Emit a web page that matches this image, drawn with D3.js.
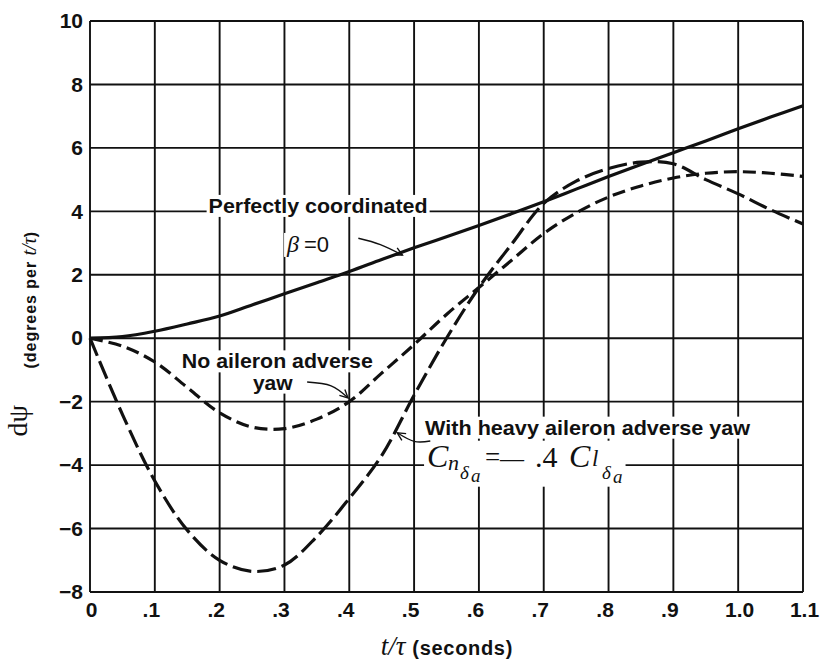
<!DOCTYPE html>
<html>
<head>
<meta charset="utf-8">
<script src="https://cdn.jsdelivr.net/npm/d3@7"></script>
<style>
  body { margin: 0; background: #fff; }
  svg { display: block; }
</style>
</head>
<body>
<svg id="chart" width="822" height="662"></svg>
<script>
// Time axis samples (t/τ) shared by the three response curves
const tValues = [0, 0.05, 0.1, 0.15, 0.2, 0.25, 0.3, 0.35, 0.4, 0.45, 0.5, 0.55,
                 0.6, 0.65, 0.7, 0.75, 0.8, 0.85, 0.9, 0.95, 1.0, 1.05, 1.1];

// Perfectly coordinated, β = 0
const coordinated = [0, 0.05, 0.22, 0.45, 0.7, 1.05, 1.4, 1.75, 2.1, 2.48, 2.85, 3.2,
                     3.55, 3.92, 4.3, 4.7, 5.1, 5.48, 5.85, 6.22, 6.6, 6.97, 7.33];

// No aileron adverse yaw
const noAdverseYaw = [0, -0.25, -0.75, -1.55, -2.35, -2.8, -2.85, -2.55, -2.0, -1.1, -0.2, 0.75,
                      1.6, 2.45, 3.3, 3.95, 4.45, 4.8, 5.05, 5.2, 5.25, 5.2, 5.1];

// With heavy aileron adverse yaw
const heavyAdverseYaw = [0, -2.4, -4.5, -6.05, -7.0, -7.35, -7.15, -6.25, -5.05, -3.7, -1.8, 0.0,
                         1.6, 2.95, 4.25, 4.95, 5.35, 5.55, 5.5, 5.0, 4.55, 4.05, 3.6];

const xTicks = [0, 0.1, 0.2, 0.3, 0.4, 0.5, 0.6, 0.7, 0.8, 0.9, 1.0, 1.1];
const xTickLabels = ["0", ".1", ".2", ".3", ".4", ".5", ".6", ".7", ".8", ".9", "1.0", "1.1"];
const yTicks = [-8, -6, -4, -2, 0, 2, 4, 6, 8, 10];
const yTickLabels = ["\u22128", "\u22126", "\u22124", "\u22122", "0", "2", "4", "6", "8", "10"];

const svg = d3.select("#chart");
const plot = { left: 90, right: 803, top: 21, bottom: 592 };

const x = d3.scaleLinear().domain([0, 1.1]).range([plot.left, plot.right]);
const y = d3.scaleLinear().domain([-8, 10]).range([plot.bottom, plot.top]);

const SANS = "'Liberation Sans', Arial, sans-serif";
const SERIF = "'Liberation Serif', 'Times New Roman', serif";
const INK = "#111";

// ---- grid -------------------------------------------------------------
const grid = svg.append("g").attr("stroke", INK).attr("stroke-width", 1.9);
grid.selectAll("line.v").data(xTicks).join("line")
  .attr("class", "v")
  .attr("x1", d => x(d)).attr("x2", d => x(d))
  .attr("y1", y(10)).attr("y2", y(-8));
grid.selectAll("line.h").data(yTicks).join("line")
  .attr("class", "h")
  .attr("x1", x(0)).attr("x2", x(1.1))
  .attr("y1", d => y(d)).attr("y2", d => y(d));

// ---- axes (labels only, grid is drawn above) ----------------------------
const xAxis = d3.axisBottom(x)
  .tickValues(xTicks)
  .tickSize(0)
  .tickPadding(10)
  .tickFormat((d, i) => xTickLabels[i]);
const gx = svg.append("g").attr("transform", `translate(0,${y(-8)})`).call(xAxis);
gx.select(".domain").remove();
gx.selectAll("text")
  .attr("font-family", SANS).attr("font-weight", "bold").attr("font-size", 21)
  .attr("fill", INK)
  .attr("dx", (d, i) => xTickLabels[i].startsWith(".") ? -4 : 1);

const yAxis = d3.axisLeft(y)
  .tickValues(yTicks)
  .tickSize(0)
  .tickPadding(7)
  .tickFormat((d, i) => yTickLabels[i]);
const gy = svg.append("g").attr("transform", `translate(${x(0)},0)`).call(yAxis);
gy.select(".domain").remove();
gy.selectAll("text")
  .attr("font-family", SANS).attr("font-weight", "bold").attr("font-size", 21)
  .attr("fill", INK);

// ---- curves -------------------------------------------------------------
const line = d3.line()
  .x(d => x(d[0]))
  .y(d => y(d[1]))
  .curve(d3.curveCatmullRom.alpha(0.5));

const series = [
  { values: coordinated, dash: null },
  { values: noAdverseYaw, dash: "13,6" },
  { values: heavyAdverseYaw, dash: "19,6" }
];

svg.append("g").selectAll("path").data(series).join("path")
  .attr("d", s => line(tValues.map((t, i) => [t, s.values[i]])))
  .attr("fill", "none")
  .attr("stroke", INK)
  .attr("stroke-width", 3.2)
  .attr("stroke-linecap", "butt")
  .attr("stroke-dasharray", s => s.dash);

// ---- annotations --------------------------------------------------------
const notes = svg.append("g");

function label(text, tx, vy, opts = {}) {
  const g = notes.append("g");
  const bg = g.append("rect").attr("fill", "#fff");
  const t = g.append("text")
    .attr("x", x(tx)).attr("y", y(vy))
    .attr("font-family", opts.family || SANS)
    .attr("font-weight", opts.weight || "bold")
    .attr("font-size", opts.size || 21)
    .attr("font-style", opts.style || "normal")
    .attr("text-anchor", opts.anchor || "start")
    .attr("fill", INK)
    .text(text);
  if (opts.length) t.attr("textLength", opts.length).attr("lengthAdjust", "spacingAndGlyphs");
  const b = t.node().getBBox();
  const pad = opts.pad == null ? 2 : opts.pad;
  bg.attr("x", b.x - pad).attr("y", b.y + 1).attr("width", b.width + 2 * pad).attr("height", b.height - 1);
  return t;
}

label("Perfectly coordinated", 0.183, 3.95, { length: 219 });
label("No aileron adverse", 0.289, -0.95, { anchor: "middle", length: 191 });
label("yaw", 0.282, -1.62, { anchor: "middle" });
label("With heavy aileron adverse yaw", 0.517, -3.04, { length: 325 });

// β = 0
{
  const g = notes.append("g");
  const bg = g.append("rect").attr("fill", "#fff");
  const t = g.append("text")
    .attr("x", x(0.304)).attr("y", y(2.72))
    .attr("fill", INK);
  t.append("tspan").attr("font-family", SERIF).attr("font-style", "italic").attr("font-size", 24).text("β");
  t.append("tspan").attr("font-family", SANS).attr("font-size", 22).attr("dx", 5).text("=0");
  const b = t.node().getBBox();
  bg.attr("x", b.x - 2).attr("y", b.y + 2).attr("width", b.width + 4).attr("height", b.height - 2);
}

// C_nδa = −.4 C_lδa, set as one text with positioned pieces
{
  const g = notes.append("g");
  const bg = g.append("rect").attr("fill", "#fff");
  const fx = x(0.52), fy = y(-4.05);
  const parts = [
    { s: "C", dx: 0, dy: 0, size: 32, it: true },
    { s: "n", dx: 21, dy: 3, size: 22, it: true },
    { s: "δ", dx: 33, dy: 12, size: 19, it: true },
    { s: "a", dx: 44, dy: 15, size: 19, it: true },
    { s: "=", dx: 58, dy: -1, size: 27, it: false },
    { s: "\u2014", dx: 73, dy: -1, size: 24, it: false },
    { s: ".4", dx: 108, dy: 0, size: 30, it: false },
    { s: "C", dx: 142, dy: 0, size: 32, it: true },
    { s: "l", dx: 165, dy: -1, size: 23, it: true },
    { s: "δ", dx: 175, dy: 12, size: 19, it: true },
    { s: "a", dx: 186, dy: 16, size: 19, it: true }
  ];
  const t = g.append("text").attr("font-family", SERIF).attr("fill", INK);
  parts.forEach(p => {
    t.append("tspan")
      .attr("x", fx + p.dx).attr("y", fy + p.dy)
      .attr("font-style", p.it ? "italic" : "normal")
      .attr("font-size", p.size)
      .text(p.s);
  });
  const b = t.node().getBBox();
  bg.attr("x", b.x - 3).attr("y", b.y + 3).attr("width", b.width + 6).attr("height", b.height - 3);
}

// arrows from labels to curves
const defs = svg.append("defs");
defs.append("marker")
  .attr("id", "head")
  .attr("viewBox", "-10 -6 12 12")
  .attr("refX", 0).attr("refY", 0)
  .attr("markerWidth", 12).attr("markerHeight", 12)
  .attr("markerUnits", "userSpaceOnUse")
  .attr("orient", "auto")
  .append("path")
  .attr("d", "M-8,-4 L0,0 L-8,4")
  .attr("fill", "none").attr("stroke", INK).attr("stroke-width", 1.4);

const arrows = [
  [[0.414, 3.15], [0.448, 2.95], [0.482, 2.62]],
  [[0.335, -1.38], [0.372, -1.5], [0.398, -1.88]],
  [[0.525, -3.24], [0.5, -3.25], [0.474, -2.98]]
];
const arrowLine = d3.line().x(d => x(d[0])).y(d => y(d[1])).curve(d3.curveNatural);
notes.selectAll("path.arrow").data(arrows).join("path")
  .attr("class", "arrow")
  .attr("d", arrowLine)
  .attr("fill", "none")
  .attr("stroke", INK)
  .attr("stroke-width", 1.4)
  .attr("marker-end", "url(#head)");

// ---- axis titles --------------------------------------------------------
{
  const t = svg.append("text")
    .attr("x", x(0.55)).attr("y", 655)
    .attr("text-anchor", "middle")
    .attr("fill", INK);
  t.append("tspan").attr("font-family", SERIF).attr("font-style", "italic").attr("font-size", 27).text("t/τ");
  t.append("tspan").attr("font-family", SANS).attr("font-weight", "bold").attr("font-size", 20)
    .attr("dx", 7).attr("textLength", 100).attr("lengthAdjust", "spacing").text("(seconds)");
}
{
  svg.append("text")
    .attr("transform", `translate(27,${y(-2.6)}) rotate(-90)`)
    .attr("text-anchor", "middle")
    .attr("font-family", SERIF)
    .attr("font-size", 28)
    .attr("fill", INK)
    .text("dψ");
  const t = svg.append("text")
    .attr("transform", `translate(36,${y(1.2)}) rotate(-90)`)
    .attr("text-anchor", "middle")
    .attr("fill", INK);
  t.append("tspan").attr("font-family", SANS).attr("font-weight", "bold").attr("font-size", 16)
    .attr("textLength", 112).attr("lengthAdjust", "spacing").text("(degrees per ");
  t.append("tspan").attr("font-family", SERIF).attr("font-style", "italic").attr("font-size", 20).text("t/τ");
  t.append("tspan").attr("font-family", SANS).attr("font-weight", "bold").attr("font-size", 16).text(")");
}
</script>
</body>
</html>
